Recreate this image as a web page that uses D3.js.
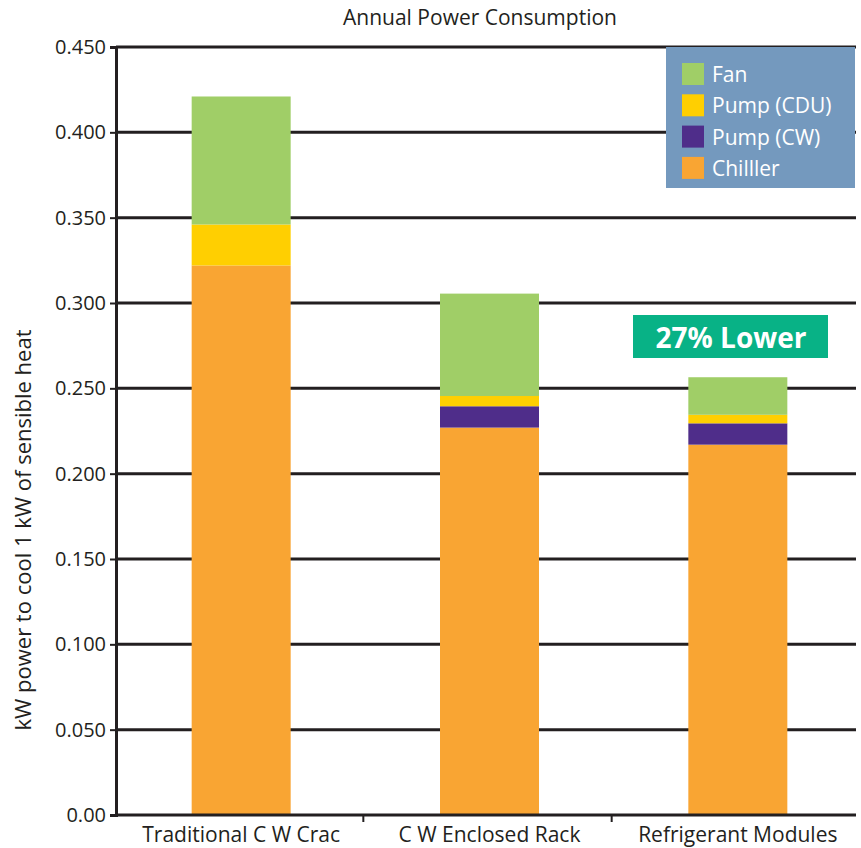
<!DOCTYPE html>
<html><head><meta charset="utf-8">
<script src="https://cdn.jsdelivr.net/npm/d3@7"></script>
<style>body{margin:0;background:#fff}svg{display:block;font-family:"Open Sans",sans-serif}</style>
</head><body><svg id="c" width="861" height="848"></svg>
<script>
const categories = ["Traditional C W Crac", "C W Enclosed Rack", "Refrigerant Modules"];
const seriesNames = ["Chilller", "Pump (CW)", "Pump (CDU)", "Fan"];
const chiller = [0.322, 0.227, 0.217];
const pumpCW = [0.000, 0.0125, 0.0125];
const pumpCDU = [0.024, 0.006, 0.005];
const fan = [0.075, 0.060, 0.022];
const yTicks = [0, 0.05, 0.1, 0.15, 0.2, 0.25, 0.3, 0.35, 0.4, 0.45];
const yTickLabels = ["0.00","0.050","0.100","0.150","0.200","0.250","0.300","0.350","0.400","0.450"];
const colors = {"Fan":"#a0ce67","Pump (CDU)":"#ffcf01","Pump (CW)":"#4f2d8a","Chilller":"#f9a533"};
const legendOrder = ["Fan","Pump (CDU)","Pump (CW)","Chilller"];

const svg = d3.select("#c");
const m = {l:116, r:861, t:47, b:815};
const x = d3.scaleBand().domain(categories).range([m.l+1, m.r+1]).paddingInner(0).paddingOuter(0);
const y = d3.scaleLinear().domain([0, 0.45]).range([m.b, m.t]);

const data = categories.map((c,i)=>({cat:c, "Chilller":chiller[i], "Pump (CW)":pumpCW[i], "Pump (CDU)":pumpCDU[i], "Fan":fan[i]}));
const stack = d3.stack().keys(seriesNames)(data);

// gridlines
svg.append("g").selectAll("line").data(yTicks.slice(1)).join("line")
  .attr("x1", m.l).attr("x2", 856).attr("y1", d=>y(d)).attr("y2", d=>y(d))
  .attr("stroke", "#231f20").attr("stroke-width", 3);

// bars
const bw = 99;
svg.append("g").selectAll("g").data(stack).join("g").attr("fill", d=>colors[d.key])
  .selectAll("rect").data(d=>d).join("rect")
  .attr("x", d=>x(d.data.cat)+x.bandwidth()/2-bw/2)
  .attr("width", bw)
  .attr("y", d=>y(d[1]))
  .attr("height", d=>Math.max(0, y(d[0])-y(d[1])));

// y axis
const yAxis = d3.axisLeft(y).tickValues(yTicks).tickFormat((d,i)=>yTickLabels[i]).tickSize(6).tickPadding(4);
const ga = svg.append("g").attr("transform", `translate(${m.l},0)`).call(yAxis);
ga.select(".domain").attr("stroke","#231f20").attr("stroke-width",3);
ga.selectAll(".tick line").attr("stroke","#231f20").attr("stroke-width",2);
ga.selectAll(".tick text").attr("font-size",20).attr("fill","#231f20").attr("font-family","Open Sans");

// x axis
const xa = svg.append("g").attr("transform", `translate(0,${m.b})`);
xa.append("line").attr("x1", m.l).attr("x2", 856).attr("stroke","#231f20").attr("stroke-width",3);
xa.selectAll("line.t").data(categories.slice(1)).join("line").attr("class","t")
  .attr("x1", d=>x(d)-2).attr("x2", d=>x(d)-2).attr("y1",0).attr("y2",7)
  .attr("stroke","#231f20").attr("stroke-width",2);
xa.selectAll("text").data(categories).join("text")
  .attr("x", d=>x(d)+x.bandwidth()/2).attr("y", 27)
  .attr("text-anchor","middle").attr("font-size",21).attr("fill","#231f20").text(d=>d);

// title
svg.append("text").attr("x", 480).attr("y", 25).attr("text-anchor","middle")
  .attr("font-size",21).attr("fill","#231f20").text("Annual Power Consumption");

// y label
svg.append("text").attr("transform","translate(31,530) rotate(-90)").attr("text-anchor","middle")
  .attr("font-size",22).attr("fill","#231f20").text("kW power to cool 1 kW of sensible heat");

// legend
const lg = svg.append("g");
lg.append("rect").attr("x",666).attr("y",47).attr("width",189).attr("height",141).attr("fill","#7499be");
legendOrder.forEach((k,i)=>{
  lg.append("rect").attr("x",682).attr("y",63+i*31.3).attr("width",22).attr("height",22).attr("fill",colors[k]);
  lg.append("text").attr("x",712).attr("y",82+i*31.3).attr("font-size",21).attr("fill","#fff").text(k);
});

// annotation
svg.append("rect").attr("x",633).attr("y",315).attr("width",195).attr("height",43).attr("fill","#08b286");
svg.append("text").attr("x",731).attr("y",348).attr("text-anchor","middle").attr("font-size",28)
  .attr("font-weight","bold").attr("fill","#fff").text("27% Lower");
</script></body></html>
